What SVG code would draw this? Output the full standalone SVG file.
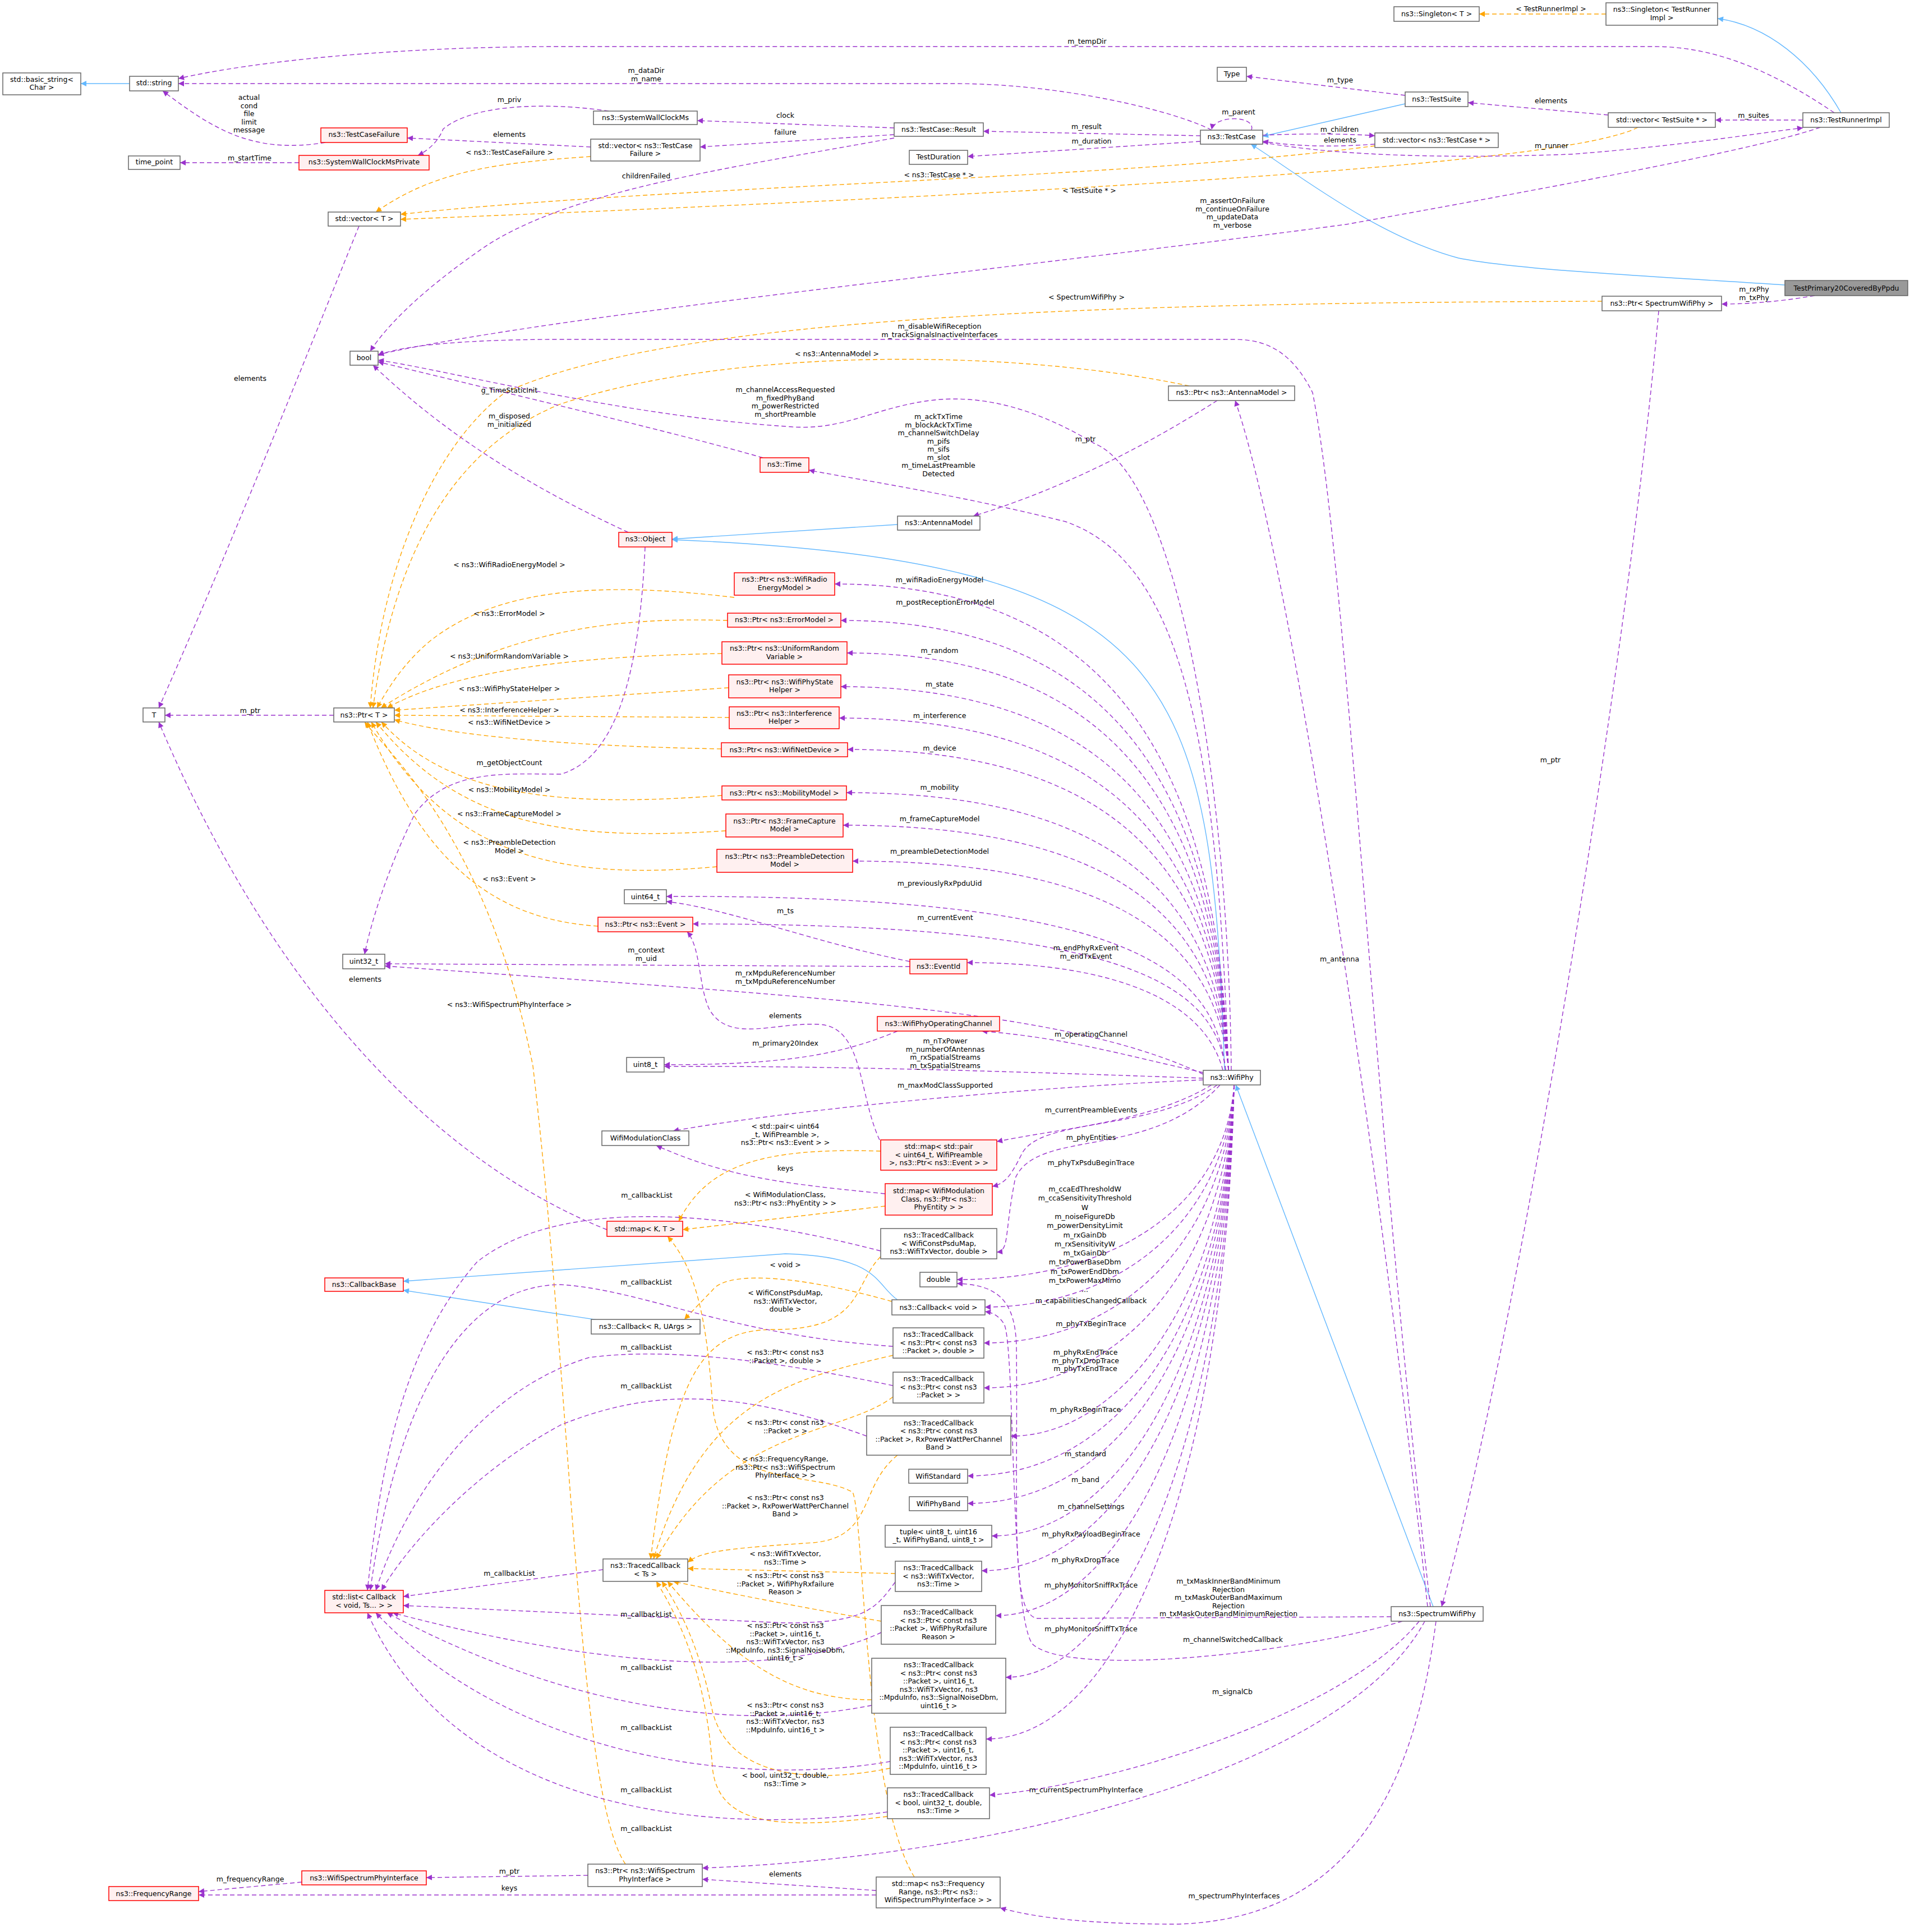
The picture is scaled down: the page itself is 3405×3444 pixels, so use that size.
<svg xmlns="http://www.w3.org/2000/svg" width="3405" height="3444" viewBox="0 0 3405 3444">
<style>
.n{fill:#fff;stroke:#666;stroke-width:1.5}
.r{fill:#fff0f0;stroke:#f00;stroke-width:1.5}
.g{fill:#999;stroke:#666;stroke-width:1.5}
.t,.l{font-family:"DejaVu Sans",sans-serif;font-size:12.5px;text-anchor:middle;fill:#000}
.e{fill:none;stroke:#9a32cd;stroke-width:1.4;stroke-dasharray:8,5;marker-end:url(#ap)}
.o{fill:none;stroke:#ffa500;stroke-width:1.4;stroke-dasharray:8,5;marker-end:url(#ao)}
.b{fill:none;stroke:#63b8ff;stroke-width:1.4;marker-end:url(#ab)}
</style>
<defs>
<marker id="ap" viewBox="0 0 10 10" refX="10" refY="5" markerWidth="14" markerHeight="10" markerUnits="userSpaceOnUse" orient="auto"><path d="M0,0L10,5L0,10z" fill="#9a32cd"/></marker>
<marker id="ao" viewBox="0 0 10 10" refX="10" refY="5" markerWidth="14" markerHeight="10" markerUnits="userSpaceOnUse" orient="auto"><path d="M0,0L10,5L0,10z" fill="#ffa500"/></marker>
<marker id="ab" viewBox="0 0 10 10" refX="10" refY="5" markerWidth="14" markerHeight="10" markerUnits="userSpaceOnUse" orient="auto"><path d="M0,0L10,5L0,10z" fill="#63b8ff"/></marker>
</defs>
<rect width="3405" height="3444" fill="#fff"/>
<g id="edges">
<path class="b" d="M231,149L144,149"/>
<path class="b" d="M2505,185L2251,243"/>
<path class="b" d="M3182,508C2900,490 2700,480 2600,460C2450,420 2300,300 2230,257"/>
<path class="b" d="M3282,201C3230,110 3150,45 3062,33"/>
<path class="b" d="M1600,935L1198,961"/>
<path class="b" d="M2183,1908C2160,1200 2100,1000 1198,962"/>
<path class="b" d="M2555,2864L2203,1934"/>
<path class="b" d="M1092,2357L719,2300"/>
<path class="b" d="M1600,2317C1560,2290 1570,2240 1400,2235L719,2284"/>
<path class="o" d="M2863,25L2637,25"/>
<path class="o" d="M1053,279C900,290 780,300 670,378"/>
<path class="o" d="M2451,260C2000,320 1200,330 714,382"/>
<path class="o" d="M2920,227C2800,290 2000,340 714,391"/>
<path class="o" d="M2856,537C2000,540 1200,560 900,700C780,790 680,1000 660,1262"/>
<path class="o" d="M2120,688C1800,620 1300,620 1000,720C800,800 700,1000 665,1262"/>
<path class="o" d="M1309,1065C1100,1040 900,1040 770,1140C720,1180 690,1230 672,1262"/>
<path class="o" d="M1297,1106C1100,1100 900,1120 679,1262"/>
<path class="o" d="M1287,1165C1000,1170 800,1200 690,1262"/>
<path class="o" d="M1299,1226L703,1266"/>
<path class="o" d="M1300,1279L703,1275"/>
<path class="o" d="M1286,1335C1000,1330 800,1310 703,1283"/>
<path class="o" d="M1287,1418C1000,1440 800,1420 680,1287"/>
<path class="o" d="M1294,1481C1000,1500 820,1470 670,1287"/>
<path class="o" d="M1278,1545C1000,1570 800,1530 662,1287"/>
<path class="o" d="M1066,1651C900,1640 760,1560 655,1287"/>
<path class="o" d="M1115,3323C1030,3200 1020,2500 950,1900C870,1500 700,1350 650,1287"/>
<path class="o" d="M1570,2052C1350,2045 1260,2080 1210,2177"/>
<path class="o" d="M1578,2150L1217,2192"/>
<path class="o" d="M1630,3346C1540,3200 1540,2700 1520,2660C1450,2620 1280,2660 1270,2500C1260,2350 1240,2260 1190,2204"/>
<path class="o" d="M1570,2240C1520,2290 1540,2370 1380,2370C1250,2370 1200,2450 1160,2779"/>
<path class="o" d="M1590,2320C1450,2280 1300,2260 1270,2300L1220,2352"/>
<path class="o" d="M1592,2416C1400,2460 1250,2500 1165,2779"/>
<path class="o" d="M1592,2490C1500,2560 1300,2540 1170,2779"/>
<path class="o" d="M1600,2594C1530,2650 1560,2740 1450,2750C1300,2760 1250,2765 1226,2785"/>
<path class="o" d="M1596,2805L1226,2796"/>
<path class="o" d="M1571,2890C1400,2860 1300,2840 1200,2819"/>
<path class="o" d="M1554,3030C1400,3030 1300,2950 1190,2819"/>
<path class="o" d="M1587,3152C1450,3180 1300,3170 1270,3050C1250,2950 1220,2880 1180,2819"/>
<path class="o" d="M1582,3238C1400,3260 1280,3260 1270,3150C1260,3000 1220,2900 1170,2819"/>
<path class="e" d="M3270,201C3150,120 3050,83 2950,83L1000,83C700,83 450,110 318,140"/>
<path class="e" d="M2160,232C2100,200 1900,149 1700,149L318,149"/>
<path class="e" d="M580,254C450,275 380,230 290,162"/>
<path class="e" d="M1085,198C1000,185 850,180 790,230C780,255 760,270 745,277"/>
<path class="e" d="M1053,262L726,246"/>
<path class="e" d="M533,290L321,290"/>
<path class="e" d="M1594,228L1243,215"/>
<path class="e" d="M1594,240L1248,262"/>
<path class="e" d="M1594,246C1300,300 1000,340 850,450C750,520 690,580 660,626"/>
<path class="e" d="M2140,242L1753,234"/>
<path class="e" d="M2140,252L1725,279"/>
<path class="e" d="M2231,232C2240,205 2165,205 2160,231"/>
<path class="e" d="M2505,170L2222,136"/>
<path class="e" d="M2251,241C2320,238 2400,238 2451,242"/>
<path class="e" d="M2451,257C2380,262 2320,262 2251,252"/>
<path class="e" d="M2867,205L2617,183"/>
<path class="e" d="M3214,214L3058,214"/>
<path class="e" d="M2251,254C2400,280 2600,282 2800,275C3000,260 3150,235 3214,228"/>
<path class="e" d="M3245,227C3150,260 2900,310 2400,400C1800,480 1000,560 674,632"/>
<path class="e" d="M3235,527C3160,540 3100,542 3069,542"/>
<path class="e" d="M2957,554C2900,1200 2700,2400 2570,2864"/>
<path class="e" d="M2550,2864C2450,2000 2400,1000 2340,700C2300,620 2250,605 2200,605L1000,605C800,605 700,620 674,634"/>
<path class="e" d="M2195,1908C2190,1400 2100,850 1950,790C1850,730 1750,700 1650,715C1550,730 1500,770 1400,760C1100,740 800,660 674,642"/>
<path class="e" d="M1360,816C1200,770 900,700 674,645"/>
<path class="e" d="M1120,949C950,870 800,780 665,651"/>
<path class="e" d="M2190,1908C2170,1300 2100,1000 1900,930C1700,880 1500,850 1442,838"/>
<path class="e" d="M2170,714C2050,790 1900,870 1735,920"/>
<path class="e" d="M2545,2864C2450,2000 2300,1000 2202,714"/>
<path class="e" d="M1150,975C1140,1200 1100,1350 1000,1380C900,1380 800,1370 740,1450C690,1550 660,1650 650,1701"/>
<path class="e" d="M595,1275L294,1275"/>
<path class="e" d="M640,403C520,700 400,1000 283,1262"/>
<path class="e" d="M1082,2192C800,2080 500,1800 283,1287"/>
<path class="e" d="M2190,1908C2170,1388 2000,1041 1488,1041"/>
<path class="e" d="M2190,1908C2170,1427 2000,1106 1499,1106"/>
<path class="e" d="M2190,1908C2170,1462 2000,1164 1510,1164"/>
<path class="e" d="M2190,1908C2170,1498 2000,1224 1499,1224"/>
<path class="e" d="M2190,1908C2170,1531 2000,1280 1496,1280"/>
<path class="e" d="M2190,1908C2170,1565 2000,1336 1511,1336"/>
<path class="e" d="M2190,1908C2170,1611 2000,1413 1509,1413"/>
<path class="e" d="M2190,1908C2170,1646 2000,1471 1503,1471"/>
<path class="e" d="M2190,1908C2170,1684 2000,1535 1520,1535"/>
<path class="e" d="M2185,1908C2165,1720 2000,1595 1188,1598"/>
<path class="e" d="M2185,1908C2165,1751 2000,1647 1235,1647"/>
<path class="e" d="M1622,1714C1450,1680 1300,1620 1188,1607"/>
<path class="e" d="M1622,1723L686,1718"/>
<path class="e" d="M2180,1908C2150,1790 2000,1716 1724,1716"/>
<path class="e" d="M2145,1915C1900,1800 1500,1780 686,1722"/>
<path class="e" d="M2145,1912C2000,1880 1900,1850 1750,1838"/>
<path class="e" d="M1600,1838C1500,1880 1400,1898 1184,1898"/>
<path class="e" d="M1568,2032C1530,1950 1540,1830 1460,1826C1380,1822 1300,1860 1265,1800C1245,1760 1250,1690 1225,1661"/>
<path class="e" d="M2145,1922C1800,1910 1500,1900 1184,1901"/>
<path class="e" d="M2145,1925C1800,1940 1400,1980 1200,2016"/>
<path class="e" d="M2160,1934C2050,2000 1900,2010 1777,2035"/>
<path class="e" d="M2170,1934C2050,2020 1850,1990 1820,2060C1800,2100 1790,2110 1769,2115"/>
<path class="e" d="M2175,1934C2050,2070 1850,2010 1810,2100C1790,2200 1800,2230 1777,2232"/>
<path class="e" d="M1578,2128C1400,2110 1300,2100 1170,2042"/>
<path class="e" d="M2200,1934C2185,2142 2000,2281 1706,2281"/>
<path class="e" d="M2200,1934C2185,2172 2000,2330 1756,2330"/>
<path class="e" d="M2200,1934C2185,2210 2000,2394 1754,2394"/>
<path class="e" d="M2200,1934C2185,2258 2000,2474 1754,2474"/>
<path class="e" d="M2200,1934C2185,2310 2000,2560 1802,2560"/>
<path class="e" d="M2200,1934C2185,2352 2000,2631 1725,2631"/>
<path class="e" d="M2200,1934C2185,2382 2000,2680 1725,2680"/>
<path class="e" d="M2200,1934C2185,2416 2000,2738 1768,2738"/>
<path class="e" d="M2200,1934C2185,2454 2000,2800 1750,2800"/>
<path class="e" d="M2200,1934C2185,2502 2000,2880 1775,2880"/>
<path class="e" d="M2200,1934C2185,2568 2000,2990 1793,2990"/>
<path class="e" d="M2200,1934C2185,2634 2000,3100 1758,3100"/>
<path class="e" d="M2480,2882L1850,2885C1800,2880 1815,2700 1812,2400C1810,2320 1780,2290 1706,2288"/>
<path class="e" d="M2500,2890C2300,2950 1900,2990 1840,2930C1800,2870 1810,2400 1790,2360C1780,2345 1770,2340 1756,2338"/>
<path class="e" d="M2530,2890C2400,3050 2000,3180 1764,3200"/>
<path class="e" d="M2540,2890C2400,3150 1800,3310 1252,3330"/>
<path class="e" d="M2560,2890C2520,3200 2400,3420 2100,3430C1950,3430 1850,3420 1783,3401"/>
<path class="e" d="M1562,3370L1252,3350"/>
<path class="e" d="M1562,3378L354,3378"/>
<path class="e" d="M1048,3343L760,3347"/>
<path class="e" d="M538,3355L354,3372"/>
<path class="e" d="M1075,2798L719,2846"/>
<path class="e" d="M1570,2230C1300,2160 1000,2130 850,2250C720,2400 680,2600 655,2835"/>
<path class="e" d="M1592,2400C1300,2380 1150,2300 1000,2290C800,2290 700,2550 660,2835"/>
<path class="e" d="M1592,2470C1400,2430 1200,2400 1050,2420C850,2480 720,2680 670,2835"/>
<path class="e" d="M1545,2560C1300,2470 1150,2480 1000,2540C850,2620 730,2750 680,2835"/>
<path class="e" d="M1596,2820C1560,2870 1540,2893 1400,2893L719,2862"/>
<path class="e" d="M1571,2910C1400,2990 1100,2980 700,2875"/>
<path class="e" d="M1554,3040C1300,3090 1000,3040 690,2875"/>
<path class="e" d="M1587,3140C1300,3190 900,3120 670,2875"/>
<path class="e" d="M1582,3230C1200,3280 800,3200 655,2875"/>
</g>
<g id="labels">
<text class="l" x="2765" y="20">&lt; TestRunnerImpl &gt;</text>
<text class="l" x="1938" y="78">m_tempDir</text>
<text class="l" x="1152" y="130">m_dataDir<tspan x="1152" dy="14.5">m_name</tspan></text>
<text class="l" x="444" y="178">actual<tspan x="444" dy="14.5">cond</tspan><tspan x="444" dy="14.5">file</tspan><tspan x="444" dy="14.5">limit</tspan><tspan x="444" dy="14.5">message</tspan></text>
<text class="l" x="908" y="182">m_priv</text>
<text class="l" x="908" y="244">elements</text>
<text class="l" x="908" y="276">&lt; ns3::TestCaseFailure &gt;</text>
<text class="l" x="445" y="286">m_startTime</text>
<text class="l" x="1400" y="210">clock</text>
<text class="l" x="1400" y="240">failure</text>
<text class="l" x="1152" y="318">childrenFailed</text>
<text class="l" x="2208" y="204">m_parent</text>
<text class="l" x="1937" y="230">m_result</text>
<text class="l" x="1946" y="256">m_duration</text>
<text class="l" x="2389" y="147">m_type</text>
<text class="l" x="2765" y="184">elements</text>
<text class="l" x="3126" y="210">m_suites</text>
<text class="l" x="2388" y="235">m_children</text>
<text class="l" x="2389" y="254">elements</text>
<text class="l" x="2766" y="264">m_runner</text>
<text class="l" x="1674" y="316">&lt; ns3::TestCase * &gt;</text>
<text class="l" x="1942" y="344">&lt; TestSuite * &gt;</text>
<text class="l" x="2197" y="362">m_assertOnFailure<tspan x="2197" dy="14.5">m_continueOnFailure</tspan><tspan x="2197" dy="14.5">m_updateData</tspan><tspan x="2197" dy="14.5">m_verbose</tspan></text>
<text class="l" x="3127" y="520">m_rxPhy<tspan x="3127" dy="14.5">m_txPhy</tspan></text>
<text class="l" x="1937" y="534">&lt; SpectrumWifiPhy &gt;</text>
<text class="l" x="1675" y="586">m_disableWifiReception<tspan x="1675" dy="14.5">m_trackSignalsInactiveInterfaces</tspan></text>
<text class="l" x="1492" y="635">&lt; ns3::AntennaModel &gt;</text>
<text class="l" x="446" y="679">elements</text>
<text class="l" x="908" y="700">g_TimeStaticInit</text>
<text class="l" x="1400" y="699">m_channelAccessRequested<tspan x="1400" dy="14.5">m_fixedPhyBand</tspan><tspan x="1400" dy="14.5">m_powerRestricted</tspan><tspan x="1400" dy="14.5">m_shortPreamble</tspan></text>
<text class="l" x="908" y="746">m_disposed<tspan x="908" dy="14.5">m_initialized</tspan></text>
<text class="l" x="1673" y="747">m_ackTxTime<tspan x="1673" dy="14.5">m_blockAckTxTime</tspan><tspan x="1673" dy="14.5">m_channelSwitchDelay</tspan><tspan x="1673" dy="14.5">m_pifs</tspan><tspan x="1673" dy="14.5">m_sifs</tspan><tspan x="1673" dy="14.5">m_slot</tspan><tspan x="1673" dy="14.5">m_timeLastPreamble</tspan><tspan x="1673" dy="14.5">Detected</tspan></text>
<text class="l" x="1935" y="787">m_ptr</text>
<text class="l" x="908" y="1011">&lt; ns3::WifiRadioEnergyModel &gt;</text>
<text class="l" x="1675" y="1038">m_wifiRadioEnergyModel</text>
<text class="l" x="1685" y="1078">m_postReceptionErrorModel</text>
<text class="l" x="908" y="1098">&lt; ns3::ErrorModel &gt;</text>
<text class="l" x="1675" y="1164">m_random</text>
<text class="l" x="908" y="1174">&lt; ns3::UniformRandomVariable &gt;</text>
<text class="l" x="1675" y="1224">m_state</text>
<text class="l" x="908" y="1232">&lt; ns3::WifiPhyStateHelper &gt;</text>
<text class="l" x="446" y="1271">m_ptr</text>
<text class="l" x="908" y="1270">&lt; ns3::InterferenceHelper &gt;</text>
<text class="l" x="1675" y="1280">m_interference</text>
<text class="l" x="908" y="1292">&lt; ns3::WifiNetDevice &gt;</text>
<text class="l" x="1675" y="1338">m_device</text>
<text class="l" x="2764" y="1359">m_ptr</text>
<text class="l" x="908" y="1364">m_getObjectCount</text>
<text class="l" x="1675" y="1408">m_mobility</text>
<text class="l" x="908" y="1412">&lt; ns3::MobilityModel &gt;</text>
<text class="l" x="908" y="1455">&lt; ns3::FrameCaptureModel &gt;</text>
<text class="l" x="1675" y="1464">m_frameCaptureModel</text>
<text class="l" x="908" y="1506">&lt; ns3::PreambleDetection<tspan x="908" dy="14.5">Model &gt;</tspan></text>
<text class="l" x="1675" y="1522">m_preambleDetectionModel</text>
<text class="l" x="908" y="1571">&lt; ns3::Event &gt;</text>
<text class="l" x="1675" y="1579">m_previouslyRxPpduUid</text>
<text class="l" x="1400" y="1628">m_ts</text>
<text class="l" x="1685" y="1640">m_currentEvent</text>
<text class="l" x="1152" y="1698">m_context<tspan x="1152" dy="14.5">m_uid</tspan></text>
<text class="l" x="1936" y="1694">m_endPhyRxEvent<tspan x="1936" dy="14.5">m_endTxEvent</tspan></text>
<text class="l" x="2388" y="1714">m_antenna</text>
<text class="l" x="1400" y="1739">m_rxMpduReferenceNumber<tspan x="1400" dy="14.5">m_txMpduReferenceNumber</tspan></text>
<text class="l" x="651" y="1750">elements</text>
<text class="l" x="908" y="1795">&lt; ns3::WifiSpectrumPhyInterface &gt;</text>
<text class="l" x="1400" y="1815">elements</text>
<text class="l" x="1945" y="1848">m_operatingChannel</text>
<text class="l" x="1400" y="1864">m_primary20Index</text>
<text class="l" x="1685" y="1860">m_nTxPower<tspan x="1685" dy="14.5">m_numberOfAntennas</tspan><tspan x="1685" dy="14.5">m_rxSpatialStreams</tspan><tspan x="1685" dy="14.5">m_txSpatialStreams</tspan></text>
<text class="l" x="1685" y="1939">m_maxModClassSupported</text>
<text class="l" x="1945" y="1983">m_currentPreambleEvents</text>
<text class="l" x="1400" y="2012">&lt; std::pair&lt; uint64<tspan x="1400" dy="14.5">_t, WifiPreamble &gt;,</tspan><tspan x="1400" dy="14.5">ns3::Ptr&lt; ns3::Event &gt; &gt;</tspan></text>
<text class="l" x="1945" y="2032">m_phyEntities</text>
<text class="l" x="1945" y="2077">m_phyTxPsduBeginTrace</text>
<text class="l" x="1400" y="2087">keys</text>
<text class="l" x="1153" y="2135">m_callbackList</text>
<text class="l" x="1400" y="2134">&lt; WifiModulationClass,<tspan x="1400" dy="14.5">ns3::Ptr&lt; ns3::PhyEntity &gt; &gt;</tspan></text>
<text class="l" x="1934" y="2124">m_ccaEdThresholdW<tspan x="1934" dy="16.3">m_ccaSensitivityThreshold</tspan><tspan x="1934" dy="16.3">W</tspan><tspan x="1934" dy="16.3">m_noiseFigureDb</tspan><tspan x="1934" dy="16.3">m_powerDensityLimit</tspan><tspan x="1934" dy="16.3">m_rxGainDb</tspan><tspan x="1934" dy="16.3">m_rxSensitivityW</tspan><tspan x="1934" dy="16.3">m_txGainDb</tspan><tspan x="1934" dy="16.3">m_txPowerBaseDbm</tspan><tspan x="1934" dy="16.3">m_txPowerEndDbm</tspan><tspan x="1934" dy="16.3">m_txPowerMaxMimo</tspan><tspan x="1934" dy="16.3">...</tspan></text>
<text class="l" x="1400" y="2259">&lt; void &gt;</text>
<text class="l" x="1152" y="2290">m_callbackList</text>
<text class="l" x="1400" y="2309">&lt; WifiConstPsduMap,<tspan x="1400" dy="14.5">ns3::WifiTxVector,</tspan><tspan x="1400" dy="14.5">double &gt;</tspan></text>
<text class="l" x="1945" y="2323">m_capabilitiesChangedCallback</text>
<text class="l" x="1945" y="2364">m_phyTxBeginTrace</text>
<text class="l" x="1152" y="2406">m_callbackList</text>
<text class="l" x="1400" y="2415">&lt; ns3::Ptr&lt; const ns3<tspan x="1400" dy="14.5">::Packet &gt;, double &gt;</tspan></text>
<text class="l" x="1935" y="2415">m_phyRxEndTrace<tspan x="1935" dy="14.5">m_phyTxDropTrace</tspan><tspan x="1935" dy="14.5">m_phyTxEndTrace</tspan></text>
<text class="l" x="1152" y="2475">m_callbackList</text>
<text class="l" x="1935" y="2517">m_phyRxBeginTrace</text>
<text class="l" x="1400" y="2540">&lt; ns3::Ptr&lt; const ns3<tspan x="1400" dy="14.5">::Packet &gt; &gt;</tspan></text>
<text class="l" x="1935" y="2596">m_standard</text>
<text class="l" x="1400" y="2605">&lt; ns3::FrequencyRange,<tspan x="1400" dy="14.5">ns3::Ptr&lt; ns3::WifiSpectrum</tspan><tspan x="1400" dy="14.5">PhyInterface &gt; &gt;</tspan></text>
<text class="l" x="1935" y="2642">m_band</text>
<text class="l" x="1400" y="2674">&lt; ns3::Ptr&lt; const ns3<tspan x="1400" dy="14.5">::Packet &gt;, RxPowerWattPerChannel</tspan><tspan x="1400" dy="14.5">Band &gt;</tspan></text>
<text class="l" x="1945" y="2690">m_channelSettings</text>
<text class="l" x="1945" y="2739">m_phyRxPayloadBeginTrace</text>
<text class="l" x="1400" y="2774">&lt; ns3::WifiTxVector,<tspan x="1400" dy="14.5">ns3::Time &gt;</tspan></text>
<text class="l" x="1935" y="2785">m_phyRxDropTrace</text>
<text class="l" x="908" y="2809">m_callbackList</text>
<text class="l" x="1400" y="2813">&lt; ns3::Ptr&lt; const ns3<tspan x="1400" dy="14.5">::Packet &gt;, WifiPhyRxfailure</tspan><tspan x="1400" dy="14.5">Reason &gt;</tspan></text>
<text class="l" x="2190" y="2823">m_txMaskInnerBandMinimum<tspan x="2190" dy="14.5">Rejection</tspan><tspan x="2190" dy="14.5">m_txMaskOuterBandMaximum</tspan><tspan x="2190" dy="14.5">Rejection</tspan><tspan x="2190" dy="14.5">m_txMaskOuterBandMinimumRejection</tspan></text>
<text class="l" x="1945" y="2830">m_phyMonitorSniffRxTrace</text>
<text class="l" x="1152" y="2882">m_callbackList</text>
<text class="l" x="1400" y="2902">&lt; ns3::Ptr&lt; const ns3<tspan x="1400" dy="14.5">::Packet &gt;, uint16_t,</tspan><tspan x="1400" dy="14.5">ns3::WifiTxVector, ns3</tspan><tspan x="1400" dy="14.5">::MpduInfo, ns3::SignalNoiseDbm,</tspan><tspan x="1400" dy="14.5">uint16_t &gt;</tspan></text>
<text class="l" x="1945" y="2908">m_phyMonitorSniffTxTrace</text>
<text class="l" x="2198" y="2927">m_channelSwitchedCallback</text>
<text class="l" x="1152" y="2977">m_callbackList</text>
<text class="l" x="2197" y="3020">m_signalCb</text>
<text class="l" x="1400" y="3044">&lt; ns3::Ptr&lt; const ns3<tspan x="1400" dy="14.5">::Packet &gt;, uint16_t,</tspan><tspan x="1400" dy="14.5">ns3::WifiTxVector, ns3</tspan><tspan x="1400" dy="14.5">::MpduInfo, uint16_t &gt;</tspan></text>
<text class="l" x="1152" y="3084">m_callbackList</text>
<text class="l" x="1400" y="3169">&lt; bool, uint32_t, double,<tspan x="1400" dy="14.5">ns3::Time &gt;</tspan></text>
<text class="l" x="1152" y="3195">m_callbackList</text>
<text class="l" x="1936" y="3195">m_currentSpectrumPhyInterface</text>
<text class="l" x="1152" y="3264">m_callbackList</text>
<text class="l" x="908" y="3340">m_ptr</text>
<text class="l" x="1400" y="3345">elements</text>
<text class="l" x="446" y="3354">m_frequencyRange</text>
<text class="l" x="908" y="3370">keys</text>
<text class="l" x="2200" y="3384">m_spectrumPhyInterfaces</text>
</g>
<g id="basic_string"><rect class="n" x="5" y="130" width="139" height="39"/><text class="t" x="74.5" y="145.5">std::basic_string&lt;<tspan x="74.5" dy="14.5">Char &gt;</tspan></text></g>
<g id="string"><rect class="n" x="231" y="136" width="87" height="26"/><text class="t" x="274.5" y="152">std::string</text></g>
<g id="TestCaseFailure"><rect class="r" x="572" y="228" width="154" height="26"/><text class="t" x="649" y="244">ns3::TestCaseFailure</text></g>
<g id="time_point"><rect class="n" x="229" y="278" width="92" height="24"/><text class="t" x="275" y="293">time_point</text></g>
<g id="SWCMP"><rect class="r" x="533" y="277" width="232" height="26"/><text class="t" x="649" y="293">ns3::SystemWallClockMsPrivate</text></g>
<g id="vecT"><rect class="n" x="585" y="378" width="129" height="25"/><text class="t" x="649.5" y="394">std::vector&lt; T &gt;</text></g>
<g id="bool"><rect class="n" x="624" y="626" width="50" height="25"/><text class="t" x="649" y="642">bool</text></g>
<g id="Object"><rect class="r" x="1103" y="949" width="95" height="26"/><text class="t" x="1150.5" y="965">ns3::Object</text></g>
<g id="SWCM"><rect class="n" x="1058" y="198" width="185" height="24"/><text class="t" x="1150.5" y="214">ns3::SystemWallClockMs</text></g>
<g id="vecTCF"><rect class="n" x="1053" y="248" width="195" height="39"/><text class="t" x="1150.5" y="263.5">std::vector&lt; ns3::TestCase<tspan x="1150.5" dy="14.5">Failure &gt;</tspan></text></g>
<g id="Result"><rect class="n" x="1594" y="219" width="159" height="24"/><text class="t" x="1673.5" y="235">ns3::TestCase::Result</text></g>
<g id="TestDuration"><rect class="n" x="1621" y="268" width="104" height="25"/><text class="t" x="1673" y="284">TestDuration</text></g>
<g id="TestCase"><rect class="n" x="2140" y="232" width="111" height="25"/><text class="t" x="2195.5" y="248">ns3::TestCase</text></g>
<g id="Type"><rect class="n" x="2170" y="120" width="52" height="25"/><text class="t" x="2196" y="136">Type</text></g>
<g id="Time"><rect class="r" x="1355" y="816" width="87" height="26"/><text class="t" x="1398.5" y="832">ns3::Time</text></g>
<g id="AntennaModel"><rect class="n" x="1600" y="920" width="147" height="25"/><text class="t" x="1673.5" y="936">ns3::AntennaModel</text></g>
<g id="PtrAntenna"><rect class="n" x="2083" y="688" width="225" height="26"/><text class="t" x="2195.5" y="704">ns3::Ptr&lt; ns3::AntennaModel &gt;</text></g>
<g id="PtrRadio"><rect class="r" x="1309" y="1021" width="179" height="40"/><text class="t" x="1398.5" y="1037">ns3::Ptr&lt; ns3::WifiRadio<tspan x="1398.5" dy="14.5">EnergyModel &gt;</tspan></text></g>
<g id="PtrError"><rect class="r" x="1297" y="1093" width="202" height="25"/><text class="t" x="1398" y="1109">ns3::Ptr&lt; ns3::ErrorModel &gt;</text></g>
<g id="SingletonT"><rect class="n" x="2485" y="12" width="152" height="26"/><text class="t" x="2561" y="29">ns3::Singleton&lt; T &gt;</text></g>
<g id="SingletonTRI"><rect class="n" x="2863" y="5" width="199" height="40"/><text class="t" x="2962.5" y="21">ns3::Singleton&lt; TestRunner<tspan x="2962.5" dy="14.5">Impl &gt;</tspan></text></g>
<g id="TestSuite"><rect class="n" x="2505" y="164" width="112" height="26"/><text class="t" x="2561" y="181">ns3::TestSuite</text></g>
<g id="vecTS"><rect class="n" x="2867" y="201" width="191" height="26"/><text class="t" x="2962.5" y="218">std::vector&lt; TestSuite * &gt;</text></g>
<g id="TRI"><rect class="n" x="3214" y="201" width="154" height="26"/><text class="t" x="3291" y="218">ns3::TestRunnerImpl</text></g>
<g id="vecTC"><rect class="n" x="2451" y="237" width="220" height="26"/><text class="t" x="2561" y="254">std::vector&lt; ns3::TestCase * &gt;</text></g>
<g id="TestPrimary"><rect class="g" x="3182" y="500" width="219" height="27"/><text class="t" x="3291.5" y="518">TestPrimary20CoveredByPpdu</text></g>
<g id="PtrSWP"><rect class="n" x="2856" y="528" width="213" height="26"/><text class="t" x="2962.5" y="545">ns3::Ptr&lt; SpectrumWifiPhy &gt;</text></g>
<g id="T"><rect class="n" x="255" y="1262" width="39" height="25"/><text class="t" x="274.5" y="1279">T</text></g>
<g id="PtrT"><rect class="n" x="595" y="1262" width="108" height="25"/><text class="t" x="649" y="1279">ns3::Ptr&lt; T &gt;</text></g>
<g id="uint32"><rect class="n" x="611" y="1701" width="75" height="26"/><text class="t" x="648.5" y="1718">uint32_t</text></g>
<g id="uint64"><rect class="n" x="1113" y="1586" width="75" height="25"/><text class="t" x="1150.5" y="1603">uint64_t</text></g>
<g id="PtrEvent"><rect class="r" x="1066" y="1635" width="169" height="26"/><text class="t" x="1150.5" y="1652">ns3::Ptr&lt; ns3::Event &gt;</text></g>
<g id="uint8"><rect class="n" x="1117" y="1885" width="67" height="26"/><text class="t" x="1150.5" y="1902">uint8_t</text></g>
<g id="WMC"><rect class="n" x="1073" y="2016" width="155" height="26"/><text class="t" x="1150.5" y="2033">WifiModulationClass</text></g>
<g id="mapKT"><rect class="r" x="1082" y="2177" width="135" height="27"/><text class="t" x="1149.5" y="2195">std::map&lt; K, T &gt;</text></g>
<g id="PtrURV"><rect class="r" x="1287" y="1144" width="223" height="40"/><text class="t" x="1398.5" y="1160">ns3::Ptr&lt; ns3::UniformRandom<tspan x="1398.5" dy="14.5">Variable &gt;</tspan></text></g>
<g id="PtrWPSH"><rect class="r" x="1299" y="1203" width="200" height="41"/><text class="t" x="1399" y="1219.5">ns3::Ptr&lt; ns3::WifiPhyState<tspan x="1399" dy="14.5">Helper &gt;</tspan></text></g>
<g id="PtrIH"><rect class="r" x="1300" y="1260" width="196" height="39"/><text class="t" x="1398" y="1275.5">ns3::Ptr&lt; ns3::Interference<tspan x="1398" dy="14.5">Helper &gt;</tspan></text></g>
<g id="PtrWND"><rect class="r" x="1286" y="1324" width="225" height="25"/><text class="t" x="1398.5" y="1341">ns3::Ptr&lt; ns3::WifiNetDevice &gt;</text></g>
<g id="PtrMM"><rect class="r" x="1287" y="1401" width="222" height="25"/><text class="t" x="1398" y="1418">ns3::Ptr&lt; ns3::MobilityModel &gt;</text></g>
<g id="PtrFCM"><rect class="r" x="1294" y="1451" width="209" height="41"/><text class="t" x="1398.5" y="1467.5">ns3::Ptr&lt; ns3::FrameCapture<tspan x="1398.5" dy="14.5">Model &gt;</tspan></text></g>
<g id="PtrPDM"><rect class="r" x="1278" y="1514" width="242" height="41"/><text class="t" x="1399" y="1530.5">ns3::Ptr&lt; ns3::PreambleDetection<tspan x="1399" dy="14.5">Model &gt;</tspan></text></g>
<g id="EventId"><rect class="r" x="1622" y="1710" width="102" height="26"/><text class="t" x="1673" y="1727">ns3::EventId</text></g>
<g id="WPOC"><rect class="r" x="1564" y="1812" width="218" height="26"/><text class="t" x="1673" y="1829">ns3::WifiPhyOperatingChannel</text></g>
<g id="WifiPhy"><rect class="n" x="2145" y="1908" width="102" height="26"/><text class="t" x="2196" y="1925">ns3::WifiPhy</text></g>
<g id="mapPair"><rect class="r" x="1570" y="2032" width="207" height="54"/><text class="t" x="1673.5" y="2048">std::map&lt; std::pair<tspan x="1673.5" dy="14.5">&lt; uint64_t, WifiPreamble</tspan><tspan x="1673.5" dy="14.5">&gt;, ns3::Ptr&lt; ns3::Event &gt; &gt;</tspan></text></g>
<g id="mapWM"><rect class="r" x="1578" y="2110" width="191" height="56"/><text class="t" x="1673.5" y="2127">std::map&lt; WifiModulation<tspan x="1673.5" dy="14.5">Class, ns3::Ptr&lt; ns3::</tspan><tspan x="1673.5" dy="14.5">PhyEntity &gt; &gt;</tspan></text></g>
<g id="TCWCPM"><rect class="n" x="1570" y="2190" width="207" height="54"/><text class="t" x="1673.5" y="2206">ns3::TracedCallback<tspan x="1673.5" dy="14.5">&lt; WifiConstPsduMap,</tspan><tspan x="1673.5" dy="14.5">ns3::WifiTxVector, double &gt;</tspan></text></g>
<g id="CallbackBase"><rect class="r" x="579" y="2278" width="140" height="24"/><text class="t" x="649" y="2294">ns3::CallbackBase</text></g>
<g id="CallbackRU"><rect class="n" x="1054" y="2352" width="194" height="26"/><text class="t" x="1151" y="2369">ns3::Callback&lt; R, UArgs &gt;</text></g>
<g id="list"><rect class="r" x="579" y="2835" width="140" height="40"/><text class="t" x="649" y="2851">std::list&lt; Callback<tspan x="649" dy="14.5">&lt; void, Ts... &gt; &gt;</tspan></text></g>
<g id="TCTs"><rect class="n" x="1075" y="2779" width="151" height="40"/><text class="t" x="1150.5" y="2795">ns3::TracedCallback<tspan x="1150.5" dy="14.5">&lt; Ts &gt;</tspan></text></g>
<g id="WSPI"><rect class="r" x="538" y="3335" width="222" height="25"/><text class="t" x="649" y="3352">ns3::WifiSpectrumPhyInterface</text></g>
<g id="FreqRange"><rect class="r" x="194" y="3363" width="160" height="25"/><text class="t" x="274" y="3380">ns3::FrequencyRange</text></g>
<g id="PtrWSPI"><rect class="n" x="1048" y="3323" width="204" height="40"/><text class="t" x="1150" y="3339">ns3::Ptr&lt; ns3::WifiSpectrum<tspan x="1150" dy="14.5">PhyInterface &gt;</tspan></text></g>
<g id="double"><rect class="n" x="1640" y="2268" width="66" height="26"/><text class="t" x="1673" y="2285">double</text></g>
<g id="CallbackVoid"><rect class="n" x="1590" y="2317" width="166" height="27"/><text class="t" x="1673" y="2335">ns3::Callback&lt; void &gt;</text></g>
<g id="TCPD"><rect class="n" x="1592" y="2367" width="162" height="54"/><text class="t" x="1673" y="2383">ns3::TracedCallback<tspan x="1673" dy="14.5">&lt; ns3::Ptr&lt; const ns3</tspan><tspan x="1673" dy="14.5">::Packet &gt;, double &gt;</tspan></text></g>
<g id="TCP"><rect class="n" x="1592" y="2446" width="162" height="55"/><text class="t" x="1673" y="2462">ns3::TracedCallback<tspan x="1673" dy="14.5">&lt; ns3::Ptr&lt; const ns3</tspan><tspan x="1673" dy="14.5">::Packet &gt; &gt;</tspan></text></g>
<g id="TCRX"><rect class="n" x="1545" y="2524" width="257" height="70"/><text class="t" x="1673.5" y="2540.5">ns3::TracedCallback<tspan x="1673.5" dy="14.5">&lt; ns3::Ptr&lt; const ns3</tspan><tspan x="1673.5" dy="14.5">::Packet &gt;, RxPowerWattPerChannel</tspan><tspan x="1673.5" dy="14.5">Band &gt;</tspan></text></g>
<g id="WifiStandard"><rect class="n" x="1620" y="2619" width="105" height="25"/><text class="t" x="1672.5" y="2636">WifiStandard</text></g>
<g id="WifiPhyBand"><rect class="n" x="1621" y="2668" width="104" height="25"/><text class="t" x="1673" y="2685">WifiPhyBand</text></g>
<g id="tuple"><rect class="n" x="1578" y="2719" width="190" height="39"/><text class="t" x="1673" y="2734.5">tuple&lt; uint8_t, uint16<tspan x="1673" dy="14.5">_t, WifiPhyBand, uint8_t &gt;</tspan></text></g>
<g id="TCWTV"><rect class="n" x="1596" y="2783" width="154" height="54"/><text class="t" x="1673" y="2799">ns3::TracedCallback<tspan x="1673" dy="14.5">&lt; ns3::WifiTxVector,</tspan><tspan x="1673" dy="14.5">ns3::Time &gt;</tspan></text></g>
<g id="TCRF"><rect class="n" x="1571" y="2862" width="204" height="69"/><text class="t" x="1673" y="2878">ns3::TracedCallback<tspan x="1673" dy="14.5">&lt; ns3::Ptr&lt; const ns3</tspan><tspan x="1673" dy="14.5">::Packet &gt;, WifiPhyRxfailure</tspan><tspan x="1673" dy="14.5">Reason &gt;</tspan></text></g>
<g id="TCSND"><rect class="n" x="1554" y="2956" width="239" height="98"/><text class="t" x="1673.5" y="2972">ns3::TracedCallback<tspan x="1673.5" dy="14.5">&lt; ns3::Ptr&lt; const ns3</tspan><tspan x="1673.5" dy="14.5">::Packet &gt;, uint16_t,</tspan><tspan x="1673.5" dy="14.5">ns3::WifiTxVector, ns3</tspan><tspan x="1673.5" dy="14.5">::MpduInfo, ns3::SignalNoiseDbm,</tspan><tspan x="1673.5" dy="14.5">uint16_t &gt;</tspan></text></g>
<g id="TCMI"><rect class="n" x="1587" y="3079" width="171" height="84"/><text class="t" x="1672.5" y="3095">ns3::TracedCallback<tspan x="1672.5" dy="14.5">&lt; ns3::Ptr&lt; const ns3</tspan><tspan x="1672.5" dy="14.5">::Packet &gt;, uint16_t,</tspan><tspan x="1672.5" dy="14.5">ns3::WifiTxVector, ns3</tspan><tspan x="1672.5" dy="14.5">::MpduInfo, uint16_t &gt;</tspan></text></g>
<g id="TCB"><rect class="n" x="1582" y="3187" width="182" height="55"/><text class="t" x="1673" y="3203">ns3::TracedCallback<tspan x="1673" dy="14.5">&lt; bool, uint32_t, double,</tspan><tspan x="1673" dy="14.5">ns3::Time &gt;</tspan></text></g>
<g id="mapFR"><rect class="n" x="1562" y="3346" width="221" height="55"/><text class="t" x="1672.5" y="3362">std::map&lt; ns3::Frequency<tspan x="1672.5" dy="14.5">Range, ns3::Ptr&lt; ns3::</tspan><tspan x="1672.5" dy="14.5">WifiSpectrumPhyInterface &gt; &gt;</tspan></text></g>
<g id="SWP"><rect class="n" x="2480" y="2864" width="164" height="26"/><text class="t" x="2562" y="2881">ns3::SpectrumWifiPhy</text></g>
</svg>
